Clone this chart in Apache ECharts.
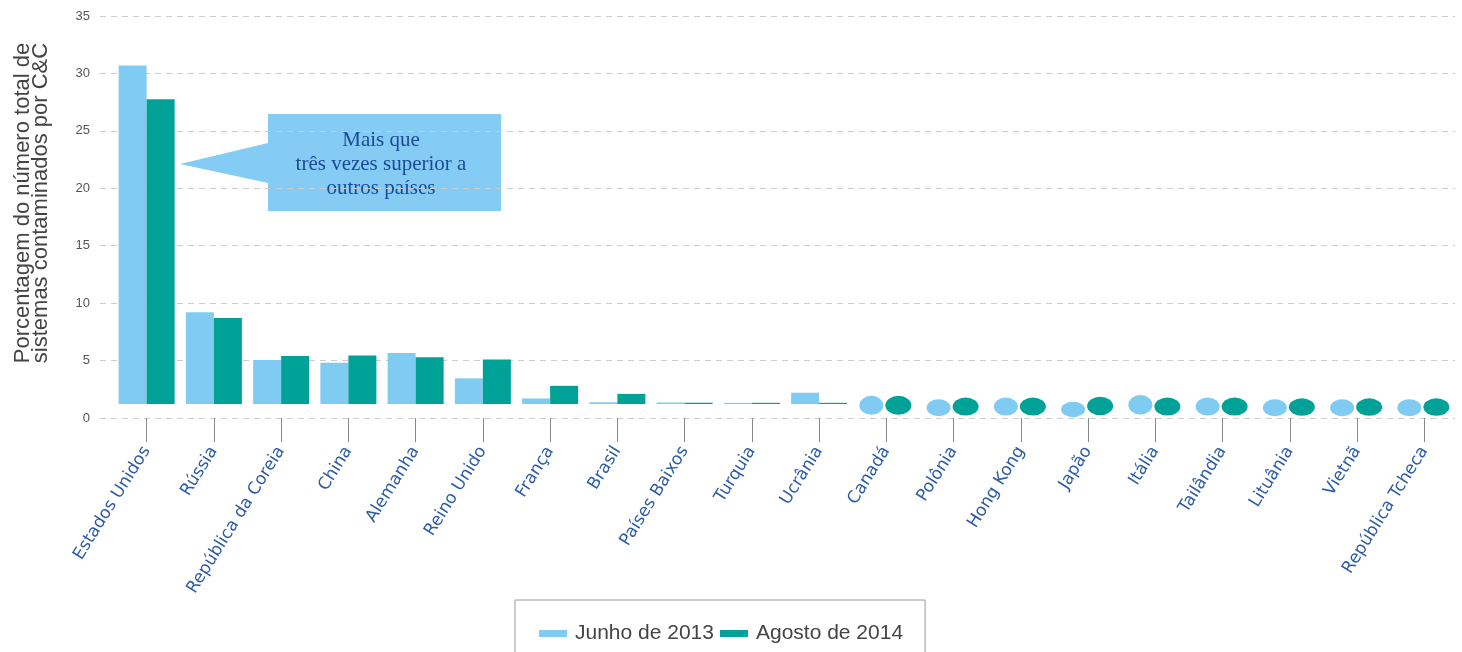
<!DOCTYPE html>
<html>
<head>
<meta charset="utf-8">
<title>Sistemas contaminados por C&amp;C</title>
<script src="https://cdn.jsdelivr.net/npm/echarts@6/dist/echarts.min.js"></script>
<style>
  html, body { margin: 0; padding: 0; background: #fff; }
  #chart { width: 1462px; height: 652px; }
</style>
</head>
<body>
<div id="chart"></div>
<script>
// Countries, in ranking order
const countries = [
  'Estados Unidos', 'Rússia', 'República da Coreia', 'China', 'Alemanha',
  'Reino Unido', 'França', 'Brasil', 'Países Baixos', 'Turquia', 'Ucrânia',
  'Canadá', 'Polônia', 'Hong Kong', 'Japão', 'Itália', 'Tailândia',
  'Lituânia', 'Vietnã', 'República Tcheca'
];

// Share of C&C-infected systems (%), read on the value axis
const junho2013 = [30.7, 9.2, 5.05, 4.8, 5.65, 3.45, 1.7, 1.37, 1.35, 1.1, 2.2,
                   1.1, 0.9, 1.0, 0.75, 1.15, 1.0, 0.9, 0.9, 0.9];
const agosto2014 = [27.75, 8.7, 5.4, 5.45, 5.3, 5.1, 2.8, 2.1, 1.33, 1.3, 1.3,
                    1.1, 1.0, 1.0, 1.05, 1.0, 1.0, 0.95, 0.95, 0.95];

// Value-axis ticks
const yTicks = [0, 5, 10, 15, 20, 25, 30, 35];

// Countries from this index on are shown as round markers instead of bars
const markerFrom = 11;
// Level on which the bars stand
const barFloor = 1.22;

const lightBlue = '#80cbf2';
const teal = '#00a298';

const barPart = (arr) => arr.map((v, i) => i < markerFrom ? Math.max(v - barFloor, 0.1) : '-');
const floorPart = countries.map((c, i) => i < markerFrom ? barFloor : '-');
const markerPart = (arr) => arr.map((v, i) => i >= markerFrom ? v : '-');
const markerSize = (w) => (val) => {
  const v = Array.isArray(val) ? val[1] : val;
  return [w, 8 + v * 10];
};

const chart = echarts.init(document.getElementById('chart'), null, { renderer: 'canvas' });

chart.setOption({
  animation: false,
  backgroundColor: '#ffffff',
  grid: [
    // value-axis frame with gridlines
    { left: 100, right: 7, top: 16, bottom: 234 },
    // category plot area
    { left: 113, right: 4, top: 16, bottom: 234 }
  ],
  xAxis: [
    { gridIndex: 0, type: 'value', min: 0, max: 1, show: false },
    {
      gridIndex: 1,
      type: 'category',
      data: countries,
      axisLine: { show: false },
      axisTick: { show: true, alignWithLabel: true, length: 24, lineStyle: { color: '#8a8a8a', width: 1 } },
      axisLabel: {
        interval: 0,
        rotate: 58,
        margin: 30,
        color: '#2c5ca8',
        fontFamily: 'DejaVu Sans',
        fontSize: 17
      }
    }
  ],
  yAxis: [
    {
      gridIndex: 0,
      type: 'value',
      min: yTicks[0],
      max: yTicks[yTicks.length - 1],
      interval: 5,
      axisLine: { show: false },
      axisTick: { show: false },
      axisLabel: {
        margin: 10,
        color: '#555',
        fontFamily: 'Liberation Sans',
        fontSize: 13,
        formatter: (v) => yTicks.includes(v) ? String(v) : ''
      },
      splitLine: { show: true, lineStyle: { color: '#cccccc', type: [6, 5], width: 1 } }
    },
    {
      gridIndex: 1,
      type: 'value',
      min: yTicks[0],
      max: yTicks[yTicks.length - 1],
      show: false
    }
  ],
  legend: {
    data: ['Junho de 2013', 'Agosto de 2014'],
    left: 515,
    top: 600,
    orient: 'horizontal',
    padding: [23, 22, 30, 24],
    borderColor: '#9a9a9a',
    borderWidth: 1,
    itemWidth: 28,
    itemHeight: 7,
    itemGap: 6,
    icon: 'rect',
    textStyle: { fontFamily: 'Liberation Sans', fontSize: 21, color: '#444', padding: [0, 0, 0, 3] }
  },
  series: [
    {
      type: 'bar', xAxisIndex: 1, yAxisIndex: 1, stack: 'jun', silent: true,
      data: floorPart, barWidth: 28, itemStyle: { color: 'rgba(0,0,0,0)' }
    },
    {
      name: 'Junho de 2013', type: 'bar', xAxisIndex: 1, yAxisIndex: 1, stack: 'jun',
      data: barPart(junho2013), barWidth: 28, itemStyle: { color: lightBlue }
    },
    {
      type: 'bar', xAxisIndex: 1, yAxisIndex: 1, stack: 'ago', silent: true,
      data: floorPart, barWidth: 28, itemStyle: { color: 'rgba(0,0,0,0)' }
    },
    {
      name: 'Agosto de 2014', type: 'bar', xAxisIndex: 1, yAxisIndex: 1, stack: 'ago',
      data: barPart(agosto2014), barWidth: 28, barGap: '0%', itemStyle: { color: teal }
    },
    {
      name: 'Junho de 2013', type: 'scatter', xAxisIndex: 1, yAxisIndex: 1,
      data: markerPart(junho2013), symbol: 'circle', symbolSize: markerSize(24),
      symbolOffset: [-15, 0], itemStyle: { color: lightBlue, opacity: 1 }
    },
    {
      name: 'Agosto de 2014', type: 'scatter', xAxisIndex: 1, yAxisIndex: 1,
      data: markerPart(agosto2014), symbol: 'circle', symbolSize: markerSize(26),
      symbolOffset: [12, 0], itemStyle: { color: teal, opacity: 1 }
    }
  ],
  graphic: [
    // axis title
    {
      type: 'text',
      x: 32, y: 203,
      rotation: Math.PI / 2,
      style: {
        text: 'Porcentagem do número total de\nsistemas contaminados por C&C',
        fontFamily: 'Liberation Sans',
        fontSize: 22,
        lineHeight: 18,
        fill: '#444',
        align: 'center',
        verticalAlign: 'middle'
      }
    },
    // callout box
    {
      type: 'polygon',
      shape: { points: [[268, 114], [501, 114], [501, 211], [268, 211], [268, 183], [180, 164], [268, 143]] },
      style: { fill: '#84ccf3' }
    },
    {
      type: 'text',
      x: 381, y: 164,
      style: {
        text: 'Mais que\ntrês vezes superior a\noutros países',
        fontFamily: 'Liberation Serif',
        fontSize: 21,
        lineHeight: 24,
        fill: '#1b4a9a',
        align: 'center',
        verticalAlign: 'middle'
      }
    }
  ]
});
</script>
</body>
</html>
